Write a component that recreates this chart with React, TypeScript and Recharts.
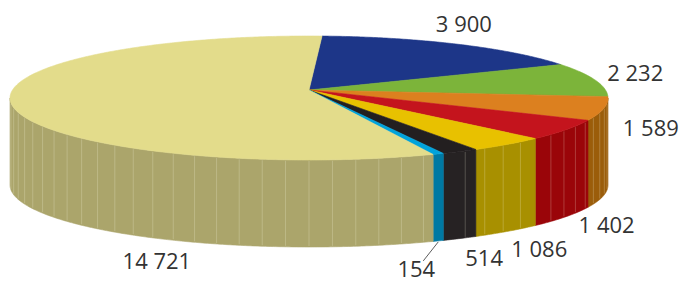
import { Pie, PieChart } from "recharts";

// slice values, clockwise from the top
const SLICE_VALUES = [3900, 2232, 1589, 1402, 1086, 514, 154, 14721];
const TOP_COLORS = ["#1d3688", "#7cb43a", "#dc801f", "#c4141d", "#e8c100", "#231f20", "#00a3dc", "#e3dc8b"];
const SIDE_COLORS = ["#152863", "#5a8a28", "#9b5d0a", "#9a0509", "#a89000", "#262223", "#0079a3", "#aba56b"];

const WIDTH = 683;
const HEIGHT = 284;
const CX = 309;
const CY = 98;
const RADIUS = 299;
const TILT = 62 / 299;
const DEPTH = 87;
const APEX_LIFT = 8;
const START_ANGLE = 87.5;
const FACET_STEP = 4.5;
const BIG_LABEL_ANGLE = 206;
const FONT = "'Open Sans', 'Noto Sans', sans-serif";

const data = SLICE_VALUES.map((value, i) => ({
  value,
  fill: TOP_COLORS[i],
  side: SIDE_COLORS[i],
}));

const rad = (d: number) => (d * Math.PI) / 180;

function rimPoint(cx: number, cy: number, r: number, angle: number, dy = 0): [number, number] {
  return [cx + r * Math.cos(rad(angle)), cy - r * TILT * Math.sin(rad(angle)) + dy];
}

function arcPoints(cx: number, cy: number, r: number, from: number, to: number, dy = 0) {
  const n = Math.max(2, Math.ceil(Math.abs(to - from) / 0.5));
  const pts: string[] = [];
  for (let k = 0; k <= n; k++) {
    const [x, y] = rimPoint(cx, cy, r, from + ((to - from) * k) / n, dy);
    pts.push(`${x.toFixed(2)},${y.toFixed(2)}`);
  }
  return pts;
}

function TopSector(props: any) {
  const { cx, cy, outerRadius, startAngle, endAngle } = props;
  const fill = props.payload?.fill ?? props.fill;
  const pts = arcPoints(cx, cy, outerRadius, startAngle, endAngle);
  const d = `M${cx},${cy - APEX_LIFT} L${pts.join(" L")} Z`;
  return <path d={d} fill={fill} stroke={fill} strokeWidth={0.6} strokeLinejoin="round" />;
}

function SideWall(props: any) {
  const { cx, cy, outerRadius, startAngle, endAngle } = props;
  const side = props.payload?.side ?? props.side;
  const lo0 = Math.min(startAngle, endAngle);
  const hi0 = Math.max(startAngle, endAngle);
  const parts: JSX.Element[] = [];
  // front half of the disc is where sin(angle) < 0
  for (const shift of [-360, 0, 360]) {
    const lo = Math.max(lo0, -180 + shift);
    const hi = Math.min(hi0, 0 + shift);
    if (hi - lo <= 0.01) continue;
    const top = arcPoints(cx, cy, outerRadius, hi, lo);
    const bottom = arcPoints(cx, cy, outerRadius, lo, hi, DEPTH);
    parts.push(
      <path
        key={`w${shift}`}
        d={`M${top.join(" L")} L${bottom.join(" L")} Z`}
        fill={side}
        stroke={side}
        strokeWidth={0.6}
      />,
    );
    for (let a = Math.ceil(lo / FACET_STEP) * FACET_STEP; a < hi; a += FACET_STEP) {
      if (a - lo < 0.8) continue;
      const [x1, y1] = rimPoint(cx, cy, outerRadius, a);
      parts.push(
        <line
          key={`f${shift}${a}`}
          x1={x1}
          y1={y1 + 1}
          x2={x1}
          y2={y1 + DEPTH - 1}
          stroke="rgba(255,255,230,0.28)"
          strokeWidth={0.8}
        />,
      );
    }
  }
  return <g>{parts}</g>;
}

const fmt = (v: number) => String(v).replace(/\B(?=(\d{3})+(?!\d))/g, " ");

function renderLabel(p: any) {
  const r = p.outerRadius;
  const text = fmt(p.value);
  const style = { fontFamily: FONT, fontSize: 22, fill: "#333" };
  if (p.percent < 0.01) {
    const c = 90 - p.midAngle;
    const x0 = p.cx + r * Math.sin(rad(c));
    const y0 = p.cy - r * TILT * Math.cos(rad(c)) + DEPTH;
    return (
      <g>
        <line x1={x0} y1={y0 + 1} x2={x0 - 15} y2={y0 + 20} stroke="#333" strokeWidth={0.8} />
        <text x={x0 - 22} y={y0 + 36} textAnchor="middle" style={style}>
          {text}
        </text>
      </g>
    );
  }
  let c = p.percent > 0.5 ? BIG_LABEL_ANGLE : 90 - p.midAngle;
  c = ((c % 360) + 360) % 360;
  const ramp = c > 95 && c < 270 ? Math.min(1, (c - 95) / 27) : 0;
  const s = Math.sin(rad(c));
  const gap = c < 90 ? 46 * s * s : 48;
  const x = p.cx + (r + gap) * s;
  const y = p.cy - (r * TILT + 23) * Math.cos(rad(c)) + DEPTH * ramp;
  return (
    <text x={x} y={y + 8} textAnchor="middle" style={style}>
      {text}
    </text>
  );
}

export default function App() {
  return (
    <div style={{ position: "absolute", left: 0, top: 0, width: WIDTH, height: HEIGHT, background: "#fff" }}>
      <PieChart width={WIDTH} height={HEIGHT} margin={{ top: 0, right: 0, bottom: 0, left: 0 }}>
        <Pie
          data={data}
          dataKey="value"
          cx={CX}
          cy={CY}
          outerRadius={RADIUS}
          startAngle={START_ANGLE}
          endAngle={START_ANGLE - 360}
          isAnimationActive={false}
          shape={(p: any) => <SideWall {...p} />}
          stroke="none"
        />
        <Pie
          data={data}
          dataKey="value"
          cx={CX}
          cy={CY}
          outerRadius={RADIUS}
          startAngle={START_ANGLE}
          endAngle={START_ANGLE - 360}
          isAnimationActive={false}
          shape={(p: any) => <TopSector {...p} />}
          stroke="none"
          label={renderLabel}
          labelLine={false}
        />
      </PieChart>
    </div>
  );
}
